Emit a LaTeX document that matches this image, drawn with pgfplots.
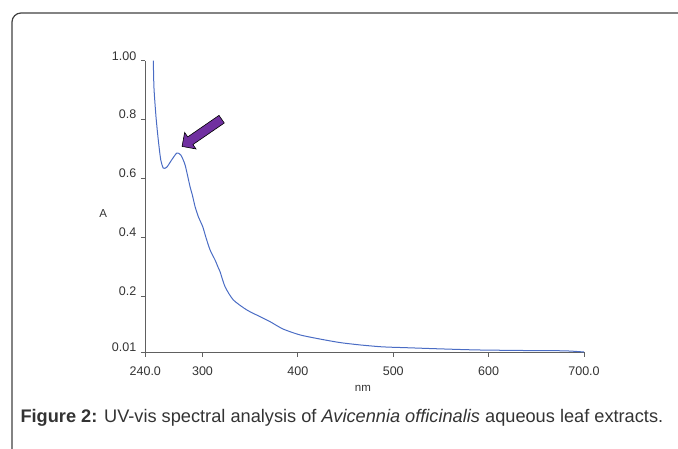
\documentclass[border=0pt]{standalone}
\usepackage{pgfplots}
\pgfplotsset{compat=1.18}
\usepackage{fontspec}
\setmainfont{Liberation Sans}
\usetikzlibrary{shapes.arrows}
\definecolor{spec}{HTML}{4A6CC4}
\definecolor{axgray}{HTML}{606060}
\definecolor{txt}{HTML}{333333}
\definecolor{arrowpurple}{HTML}{7030A0}
\begin{document}
\begin{tikzpicture}[x=1pt,y=1pt]
\path[use as bounding box] (0,0) rectangle (678,-448);
\draw[line width=1.2pt, color=black!75, rounded corners=9pt] (12,-460) -- (12,-13) -- (690,-13);
\begin{axis}[
    at={(145.3pt,-352pt)}, anchor=south west,
    scale only axis, width=438.7pt, height=291.3pt,
    xmin=240, xmax=700, ymin=0.01, ymax=1.00,
    axis lines*=left,
    axis line style={color=axgray, line width=0.9pt},
    tick style={color=axgray, line width=0.9pt},
    tick align=outside, major tick length=4.5pt,
    xtick={240,300,400,500,600,700},
    xticklabels={240.0,300,400,500,600,700.0},
    ytick={0.01,0.2,0.4,0.6,0.8,1.00},
    yticklabels={0.01,0.2,0.4,0.6,0.8,1.00},
    ticklabel style={font=\fontsize{12.5}{14}\selectfont, text=txt},
    xticklabel style={yshift=-7pt},
    yticklabel style={yshift=5pt, xshift=-1pt},
    xlabel={nm}, ylabel={A},
    label style={font=\fontsize{11.5}{13}\selectfont, text=txt},
    xlabel style={at={(rel axis cs:0.496,-0.124)}, anchor=center},
    ylabel style={at={(rel axis cs:-0.096,0.474)}, anchor=center, rotate=-90},
    clip=false,
]
\addplot[color=spec, line width=1pt, smooth, tension=0.4] coordinates {
(248.4,1.000) (249.1,0.907) (251.2,0.810) (253.6,0.731) (256.2,0.663)
(258.9,0.635) (262.5,0.638) (267.7,0.663) (273.0,0.686) (277.1,0.680)
(281.7,0.646) (286.9,0.572) (289.3,0.544) (292.2,0.504) (295.6,0.470)
(300.2,0.436) (303.7,0.398) (307.9,0.357) (313.1,0.323) (316.6,0.296)
(318.4,0.283) (323.6,0.232) (332.3,0.187) (346.4,0.153) (360.4,0.130)
(370.9,0.113) (384.5,0.088) (402.3,0.068) (423.3,0.054) (444.3,0.042)
(465.3,0.034) (486.3,0.028) (499.9,0.026) (510.4,0.025) (546.0,0.021)
(588.0,0.017) (640.0,0.015) (680.0,0.014) (700.0,0.010)
};
\node[single arrow, fill=arrowpurple, draw=black, line width=0.6pt,
      minimum height=48pt, minimum width=20pt, single arrow head extend=5pt,
      single arrow head indent=0pt, inner sep=4pt,
      rotate=214.5, anchor=tip]
      at (axis cs:278.2,0.708) {};
\end{axis}
\node[anchor=west, text=txt, font=\fontsize{18.2}{20}\selectfont] at (17,-418)
  {\textbf{Figure 2:} UV-vis spectral analysis of \textit{Avicennia officinalis} aqueous leaf extracts.};
\end{tikzpicture}
\end{document}
